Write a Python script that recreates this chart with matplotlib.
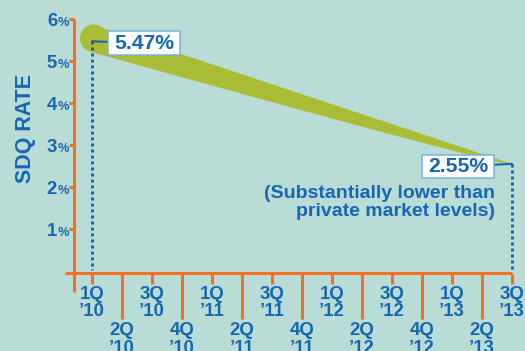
import matplotlib
matplotlib.use("Agg")
import matplotlib.pyplot as plt
import numpy as np
from matplotlib.patches import Ellipse, Polygon
from matplotlib.path import Path

# ---- data ----
quarters = ["1Q\n’10", "2Q\n’10", "3Q\n’10", "4Q\n’10",
            "1Q\n’11", "2Q\n’11", "3Q\n’11", "4Q\n’11",
            "1Q\n’12", "2Q\n’12", "3Q\n’12", "4Q\n’12",
            "1Q\n’13", "2Q\n’13", "3Q\n’13"]
start_value = 5.47
end_value = 2.55
y_ticks = [1, 2, 3, 4, 5, 6]
start_label = "5.47%"
end_label = "2.55%"
note = "(Substantially lower than\nprivate market levels)"
y_title = "SDQ RATE"

# ---- style ----
BG = "#b9dcd6"
ORANGE = "#f37021"
BLUE = "#1567b3"
GREEN = "#aabd37"
BOX_EDGE = "#7ab1dc"
PX = 72 / 100.0  # points per pixel

plt.rcParams["font.family"] = ["Liberation Sans", "DejaVu Sans"]
plt.rcParams["font.weight"] = "bold"

fig = plt.figure(figsize=(5.25, 3.51), dpi=100, facecolor=BG)
ax = fig.add_axes([74 / 525, (351 - 273.5) / 351, 438 / 525, 254.5 / 351])
ax.patch.set_visible(False)
n = len(quarters)
ax.set_xlim(-0.6, n - 1)
ax.set_ylim(-0.06, max(y_ticks))
for s in ax.spines.values():
    s.set_visible(False)

# axis lines
ax.plot([-0.6, -0.6], [max(y_ticks), -0.5], color=ORANGE, lw=3 * PX,
        clip_on=False, solid_capstyle="butt", zorder=3)
ax.plot([-0.9, n - 1], [-0.06, -0.06], color=ORANGE, lw=3 * PX,
        clip_on=False, solid_capstyle="butt", zorder=3)

# x ticks
ax.set_xticks(range(0, n, 2))
ax.set_xticklabels(quarters[0::2])
ax.set_xticks(range(1, n, 2), minor=True)
ax.set_xticklabels(quarters[1::2], minor=True)
ax.tick_params(axis="x", which="major", length=10 * PX, width=3 * PX,
               color=ORANGE, pad=1.5, labelsize=13.4, labelcolor=BLUE)
ax.tick_params(axis="x", which="minor", length=45 * PX, width=3 * PX,
               color=ORANGE, pad=2.5, labelsize=13.4, labelcolor=BLUE)
for lbl in ax.get_xticklabels(which="both"):
    lbl.set_fontweight("bold")
    lbl.set_linespacing(1.05)

# y ticks
ax.set_yticks(y_ticks)
ax.set_yticklabels([])
ax.tick_params(axis="y", length=5 * PX, width=3 * PX, color=ORANGE)
for v in y_ticks:
    ax.annotate(f"{v}", xy=(0, v), xycoords=("axes fraction", "data"),
                xytext=(-17, -7.5), textcoords="offset pixels", ha="right",
                va="baseline", fontsize=13.3, fontweight="bold", color=BLUE)
    ax.annotate("%", xy=(0, v), xycoords=("axes fraction", "data"),
                xytext=(-5, -7.5), textcoords="offset pixels", ha="right",
                va="baseline", fontsize=9.3, fontweight="bold", color=BLUE)

ax.set_ylabel(y_title, fontsize=15.5, fontweight="bold", color=BLUE, va="center")
ax.yaxis.set_label_coords((25 - 74) / 438, (273.5 - 128.5) / 254.5)

# tapered band
t = np.linspace(0, 1, 80)
xs = t * (n - 1)
center = start_value + (end_value - start_value) * t
upper = center + 0.40 * (1 - t)
lower = center - 0.26 * np.sqrt(1 - t)
verts = list(zip(xs, upper)) + list(zip(xs[::-1], lower[::-1]))
ax.add_patch(Polygon(verts, closed=True, fc=GREEN, ec="none", zorder=2, clip_on=False))
ax.add_patch(Ellipse((0.06, start_value + 0.07), width=0.66 * 42 / 30, height=0.66,
                     fc=GREEN, ec="none", zorder=2, clip_on=False))

# dotted drop lines
for xv, yv in [(0, start_value), (n - 1, end_value)]:
    ax.plot([xv, xv], [yv, 0.02], color=BLUE, lw=3 * PX, ls=(0, (1, 1)),
            zorder=4, clip_on=False)


def box_style(x0, y0, width, height, mutation_size):
    padx = 0.28 * mutation_size
    pady = 0.11 * mutation_size
    x0, x1 = x0 - padx, x0 + width + padx
    y0, y1 = y0 - pady, y0 + height + pady
    return Path([(x0, y0), (x1, y0), (x1, y1), (x0, y1), (x0, y0)], closed=True)


bbox = dict(boxstyle=box_style, fc="white", ec=BOX_EDGE, lw=1.1)
arrow = dict(arrowstyle="-", color=BLUE, lw=1.5, shrinkA=0, shrinkB=0)
ax.annotate(start_label, xy=(0, start_value), xytext=(52, -2),
            textcoords="offset pixels", ha="center", va="center", fontsize=15.2,
            fontweight="bold", color=BLUE, bbox=bbox, arrowprops=arrow, zorder=5)
ax.annotate(end_label, xy=(n - 1, end_value), xytext=(-54, -2.5),
            textcoords="offset pixels", ha="center", va="center", fontsize=15.2,
            fontweight="bold", color=BLUE, bbox=bbox, arrowprops=arrow, zorder=5)
ax.annotate(note, xy=(n - 1, end_value), xytext=(-17, -21),
            textcoords="offset pixels", ha="right", va="top", fontsize=14,
            fontweight="bold", color=BLUE, linespacing=1.1, multialignment="right")

fig.savefig("out.png", dpi=100, facecolor=BG)
